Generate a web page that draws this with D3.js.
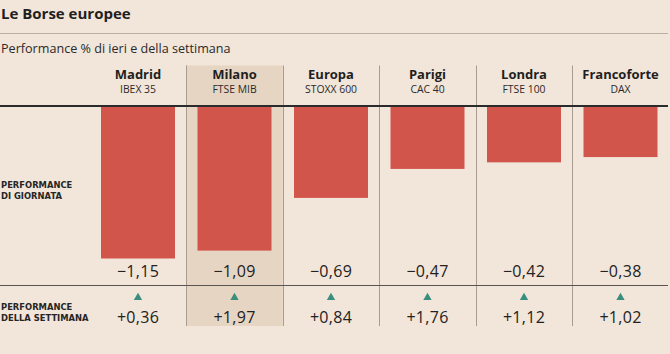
<!DOCTYPE html>
<html>
<head>
<meta charset="utf-8">
<script src="https://cdn.jsdelivr.net/npm/d3@7"></script>
<style>
  html, body { margin: 0; padding: 0; background: #f2e5d9; }
  svg { display: block; font-family: "Open Sans", "Noto Sans", sans-serif; }
</style>
</head>
<body>
<div id="chart"></div>
<script>
// dati: performance % di ieri e della settimana
const citta = ['Madrid', 'Milano', 'Europa', 'Parigi', 'Londra', 'Francoforte'];
const indici = ['IBEX 35', 'FTSE MIB', 'STOXX 600', 'CAC 40', 'FTSE 100', 'DAX'];
const giornata = [-1.15, -1.09, -0.69, -0.47, -0.42, -0.38];
const settimana = [0.36, 1.97, 0.84, 1.76, 1.12, 1.02];
const evidenziata = 'Milano';

const width = 670, height = 354;
const svg = d3.select('#chart').append('svg')
    .attr('width', width)
    .attr('height', height);

// formato italiano: virgola decimale, segno meno tipografico
const fmt = v => (v < 0 ? '\u2212' : '+') + d3.format('.2f')(Math.abs(v)).replace('.', ',');

// colonne
const x = d3.scaleBand()
    .domain(citta)
    .range([89.75, 668.75]);
const cx = c => x(c) + x.bandwidth() / 2;
const barW = 74;

const y0 = 107;
const y = d3.scaleLinear().domain([0, -1.15]).range([y0, 258.5]);

// titolo
svg.append('text').attr('x', 1).attr('y', 19)
    .attr('font-size', 15).attr('font-weight', 700).attr('fill', '#1f1f1f')
    .text('Le Borse europee');
svg.append('line').attr('x1', 0).attr('x2', 668).attr('y1', 33.5).attr('y2', 33.5)
    .attr('stroke', '#b9aea4').attr('stroke-width', 1);
svg.append('text').attr('x', 1).attr('y', 53)
    .attr('font-size', 12.6).attr('fill', '#2a2a2a')
    .text('Performance % di ieri e della settimana');

// colonna evidenziata
svg.append('rect')
    .attr('x', x(evidenziata)).attr('y', 65.5)
    .attr('width', x.bandwidth()).attr('height', 326 - 65.5)
    .attr('fill', '#e6d5c2');

// separatori verticali
svg.selectAll('line.sep')
    .data(citta.slice(1))
    .enter().append('line')
    .attr('class', 'sep')
    .attr('x1', d => Math.round(x(d)) + 0.5).attr('x2', d => Math.round(x(d)) + 0.5)
    .attr('y1', 65.5).attr('y2', 326)
    .attr('stroke', '#a89c92').attr('stroke-width', 1);
svg.append('line')
    .attr('x1', Math.round(x(evidenziata)) + 0.5).attr('x2', Math.round(x(evidenziata)) + 0.5)
    .attr('y1', 65.5).attr('y2', 326)
    .attr('stroke', '#a89c92');

// intestazioni
svg.selectAll('text.citta')
    .data(citta)
    .enter().append('text')
    .attr('class', 'citta')
    .attr('x', cx).attr('y', 78.5)
    .attr('text-anchor', 'middle')
    .attr('font-size', 13).attr('font-weight', 700).attr('fill', '#1f1f1f')
    .text(d => d);
svg.selectAll('text.indice')
    .data(indici)
    .enter().append('text')
    .attr('class', 'indice')
    .attr('x', (d, i) => cx(citta[i])).attr('y', 93)
    .attr('text-anchor', 'middle')
    .attr('font-size', 10.4).attr('fill', '#2a2a2a')
    .text(d => d);

// barre performance di giornata
svg.selectAll('rect.bar')
    .data(giornata)
    .enter().append('rect')
    .attr('class', 'bar')
    .attr('x', (d, i) => x(citta[i]) + (x.bandwidth() - barW) / 2)
    .attr('y', y0)
    .attr('width', barW)
    .attr('height', d => y(d) - y0)
    .attr('fill', '#d2554c');

// linea dello zero
svg.append('line').attr('x1', 0).attr('x2', 668).attr('y1', 106).attr('y2', 106)
    .attr('stroke', '#2b2b2b').attr('stroke-width', 2);

// valori di giornata
svg.selectAll('text.vg')
    .data(giornata)
    .enter().append('text')
    .attr('class', 'vg')
    .attr('x', (d, i) => cx(citta[i])).attr('y', 277)
    .attr('text-anchor', 'middle')
    .attr('font-size', 16).attr('letter-spacing', 0.3).attr('fill', '#222')
    .text(fmt);

// separatore sezioni
svg.append('line').attr('x1', 0).attr('x2', 668).attr('y1', 285.5).attr('y2', 285.5)
    .attr('stroke', '#5a5550').attr('stroke-width', 1.2);

// triangoli settimanali
const tri = d3.symbol().type(d3.symbolTriangle).size(30);
svg.selectAll('path.tri')
    .data(settimana)
    .enter().append('path')
    .attr('class', 'tri')
    .attr('transform', (d, i) => `translate(${cx(citta[i])},297.5) rotate(${d >= 0 ? 0 : 180})`)
    .attr('d', tri)
    .attr('fill', d => d >= 0 ? '#3a8e7e' : '#d2554c');

// valori settimanali
svg.selectAll('text.vs')
    .data(settimana)
    .enter().append('text')
    .attr('class', 'vs')
    .attr('x', (d, i) => cx(citta[i])).attr('y', 323)
    .attr('text-anchor', 'middle')
    .attr('font-size', 16).attr('letter-spacing', 0.3).attr('fill', '#222')
    .text(fmt);

// etichette a sinistra (interlinea stretta: font con ascendenti corti)
const etichette = [
    { righe: ['PERFORMANCE', 'DI GIORNATA'], y: 187.5, dy: 11.3 },
    { righe: ['PERFORMANCE', 'DELLA SETTIMANA'], y: 310, dy: 10.8 }
];
etichette.forEach(e => {
    e.righe.forEach((r, i) => {
        svg.append('text')
            .attr('x', 1).attr('y', e.y + i * e.dy)
            .attr('font-family', '"DejaVu Sans", sans-serif')
            .attr('font-size', 8.4).attr('font-weight', 700).attr('fill', '#262626')
            .text(r);
    });
});
</script>
</body>
</html>
